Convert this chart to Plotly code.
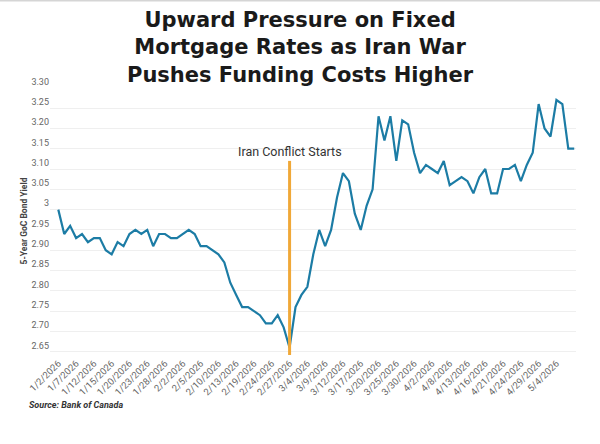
import plotly.graph_objects as go

dates = [
    "1/2/2026", "1/5/2026", "1/6/2026", "1/7/2026", "1/8/2026", "1/9/2026",
    "1/12/2026", "1/13/2026", "1/14/2026", "1/15/2026", "1/16/2026", "1/19/2026",
    "1/20/2026", "1/21/2026", "1/22/2026", "1/23/2026", "1/26/2026", "1/27/2026",
    "1/28/2026", "1/29/2026", "1/30/2026", "2/2/2026", "2/3/2026", "2/4/2026",
    "2/5/2026", "2/6/2026", "2/9/2026", "2/10/2026", "2/11/2026", "2/12/2026",
    "2/13/2026", "2/17/2026", "2/18/2026", "2/19/2026", "2/20/2026", "2/23/2026",
    "2/24/2026", "2/25/2026", "2/26/2026", "2/27/2026", "3/2/2026", "3/3/2026",
    "3/4/2026", "3/5/2026", "3/6/2026", "3/9/2026", "3/10/2026", "3/11/2026",
    "3/12/2026", "3/13/2026", "3/16/2026", "3/17/2026", "3/18/2026", "3/19/2026",
    "3/20/2026", "3/23/2026", "3/24/2026", "3/25/2026", "3/26/2026", "3/27/2026",
    "3/30/2026", "3/31/2026", "4/1/2026", "4/2/2026", "4/6/2026", "4/7/2026",
    "4/8/2026", "4/9/2026", "4/10/2026", "4/13/2026", "4/14/2026", "4/15/2026",
    "4/16/2026", "4/17/2026", "4/20/2026", "4/21/2026", "4/22/2026", "4/23/2026",
    "4/24/2026", "4/27/2026", "4/28/2026", "4/29/2026", "4/30/2026", "5/1/2026",
    "5/4/2026", "5/5/2026", "5/6/2026", "5/7/2026",
]

yields = [
    3.00, 2.94, 2.96, 2.93, 2.94, 2.92, 2.93, 2.93, 2.90, 2.89,
    2.92, 2.91, 2.94, 2.95, 2.94, 2.95, 2.91, 2.94, 2.94, 2.93,
    2.93, 2.94, 2.95, 2.94, 2.91, 2.91, 2.90, 2.89, 2.87, 2.82,
    2.79, 2.76, 2.76, 2.75, 2.74, 2.72, 2.72, 2.74, 2.71, 2.66,
    2.76, 2.79, 2.81, 2.89, 2.95, 2.91, 2.95, 3.03, 3.09, 3.07,
    2.99, 2.95, 3.01, 3.05, 3.23, 3.17, 3.23, 3.12, 3.22, 3.21,
    3.14, 3.09, 3.11, 3.10, 3.09, 3.12, 3.06, 3.07, 3.08, 3.07,
    3.04, 3.08, 3.10, 3.04, 3.04, 3.10, 3.10, 3.11, 3.07, 3.11,
    3.14, 3.26, 3.20, 3.18, 3.27, 3.26, 3.15, 3.15,
]

x_tick_labels = [
    "1/2/2026", "1/7/2026", "1/12/2026", "1/15/2026", "1/20/2026", "1/23/2026",
    "1/28/2026", "2/2/2026", "2/5/2026", "2/10/2026", "2/13/2026", "2/19/2026",
    "2/24/2026", "2/27/2026", "3/4/2026", "3/9/2026", "3/12/2026", "3/17/2026",
    "3/20/2026", "3/25/2026", "3/30/2026", "4/2/2026", "4/8/2026", "4/13/2026",
    "4/16/2026", "4/21/2026", "4/24/2026", "4/29/2026", "5/4/2026",
]

y_tick_values = [2.65, 2.70, 2.75, 2.80, 2.85, 2.90, 2.95, 3.00,
                 3.05, 3.10, 3.15, 3.20, 3.25, 3.30]
y_tick_labels = ["2.65", "2.70", "2.75", "2.80", "2.85", "2.90", "2.95", "3",
                 "3.05", "3.10", "3.15", "3.20", "3.25", "3.30"]

title_lines = [
    "Upward Pressure on Fixed",
    "Mortgage Rates as Iran War",
    "Pushes Funding Costs Higher",
]

event_date = "2/27/2026"
event_label = "Iran Conflict Starts"
event_line_top = 3.12
event_label_y = 3.143

W, H = 600, 444
ML, MR, MT, MB = 50, 24, 87.4, 88.6
PW, PH = W - ML - MR, H - MT - MB


def px_x(p):
    return (p - ML) / PW


def px_y(p):
    return (H - MB - p) / PH


fig = go.Figure()
fig.add_trace(go.Scatter(
    x=dates, y=yields, mode="lines",
    line=dict(color="#1C7CA5", width=2.2),
    hoverinfo="x+y", showlegend=False,
))

fig.add_shape(type="line", xref="x", yref="y",
              x0=event_date, x1=event_date, y0=2.642, y1=event_line_top,
              line=dict(color="#F0A838", width=3))

fig.add_annotation(x=event_date, y=event_label_y, xref="x", yref="y",
                   text=event_label, showarrow=False,
                   font=dict(family="Roboto", size=12.5, color="#333333"),
                   xanchor="center", yanchor="middle")

fig.add_annotation(x=px_x(300), xref="paper", y=px_y(47.5), yref="paper",
                   text="<br>".join("<b>" + t + "</b>" for t in title_lines),
                   showarrow=False, xanchor="center", yanchor="middle",
                   align="center",
                   font=dict(family="DejaVu Sans", size=21, color="#1a1a1a"))

fig.add_annotation(x=px_x(27), y=px_y(405), xref="paper", yref="paper",
                   text="<b><i>Source: Bank of Canada</i></b>", showarrow=False,
                   font=dict(family="Roboto", size=9, color="#333333"),
                   xanchor="left", yanchor="middle")

# thin top border
fig.add_shape(type="line", xref="paper", yref="paper",
              x0=px_x(0), x1=px_x(600), y0=px_y(0.8), y1=px_y(0.8),
              line=dict(color="#D5D5D5", width=2))

fig.update_layout(
    width=W, height=H,
    margin=dict(l=ML, r=MR, t=MT, b=MB),
    paper_bgcolor="white", plot_bgcolor="white",
    xaxis=dict(
        type="category", range=[-1.4, 87.3],
        tickmode="array", tickvals=x_tick_labels, ticktext=x_tick_labels,
        tickangle=-45, showgrid=False, zeroline=False, showline=False,
        ticks="", tickfont=dict(family="Roboto", size=9.5, color="#666666"),
    ),
    yaxis=dict(
        range=[2.642, 3.302],
        tickmode="array", tickvals=y_tick_values, ticktext=y_tick_labels,
        ticklabelposition="outside top", ticks="",
        showgrid=True, gridcolor="#EFEFEF", gridwidth=1,
        zeroline=False, showline=False,
        tickfont=dict(family="Roboto", size=9, color="#666666"),
        title=dict(text="<b>5-Year GoC Bond Yield</b>", standoff=2,
                   font=dict(family="Roboto", size=8.5, color="#444444")),
    ),
)

fig.write_html("out.html",
               config={"displayModeBar": False},
               post_script="document.body.style.margin='0px';"
                           "document.body.style.overflow='hidden';")
